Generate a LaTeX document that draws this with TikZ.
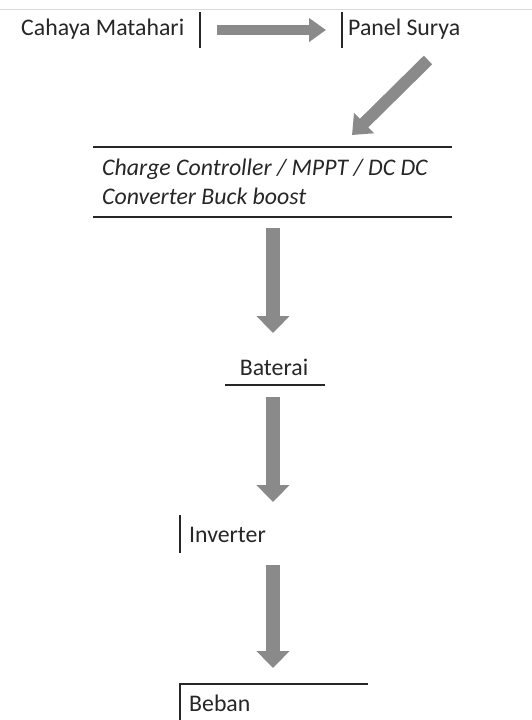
\documentclass[tikz,border=0pt]{standalone}
\usepackage{fontspec}
\setmainfont{Carlito}
\usetikzlibrary{arrows.meta}
\definecolor{arrgray}{RGB}{138,138,138}
\definecolor{topgray}{RGB}{220,220,220}
\tikzset{
  lbl/.style={anchor=west, inner sep=0pt, font=\fontsize{23.8}{29}\selectfont, text=black!85},
  border/.style={line width=1.3pt, black!85},
  blockarrow/.style={arrgray, line width=#1, -{Triangle[width=#1*2.3,length=17pt]}},
}
\begin{document}
\begin{tikzpicture}[x=1pt,y=-1pt]
\useasboundingbox (0,0) rectangle (532,720);
\draw[topgray, line width=0.8pt] (0,9) -- (532,9);
% nodes
\node[lbl] (cahaya) at (21,29) {Cahaya Matahari};
\node[lbl] (panel) at (348,29) {Panel Surya};
\node[lbl, align=left, font=\fontsize{23.8}{29}\selectfont\itshape] (cc) at (102,182) {Charge Controller / MPPT / DC DC\\Converter Buck boost};
\node[lbl, anchor=center] (bat) at (274,367) {Baterai};
\node[lbl] (inv) at (189,535) {Inverter};
\node[lbl] (beb) at (189,703) {Beban};
% borders
\draw[border] (200,12) -- (200,48);
\draw[border] (342,12) -- (342,48);
\draw[border] (93,147) -- (452,147);
\draw[border] (93,217) -- (452,217);
\draw[border] (225,385) -- (325,385);
\draw[border] (180,515) -- (180,553);
\draw[border] (368,684) -- (180,684) -- (180,720);
% arrow endpoints
\coordinate (a0s) at (217,30);
\coordinate (a0e) at (326,30);
\coordinate (a1s) at (428,60);
\coordinate (a1e) at (352,135);
\coordinate (a2s) at (273,228);
\coordinate (a2e) at (273,333);
\coordinate (a3s) at (273,397);
\coordinate (a3e) at (273,502);
\coordinate (a4s) at (273,565);
\coordinate (a4e) at (273,668);
% arrows
\draw[blockarrow=10pt] (a0s) -- (a0e);
\draw[blockarrow=12pt] (a1s) -- (a1e);
\draw[blockarrow=14pt] (a2s) -- (a2e);
\draw[blockarrow=14pt] (a3s) -- (a3e);
\draw[blockarrow=14pt] (a4s) -- (a4e);
\end{tikzpicture}
\end{document}
